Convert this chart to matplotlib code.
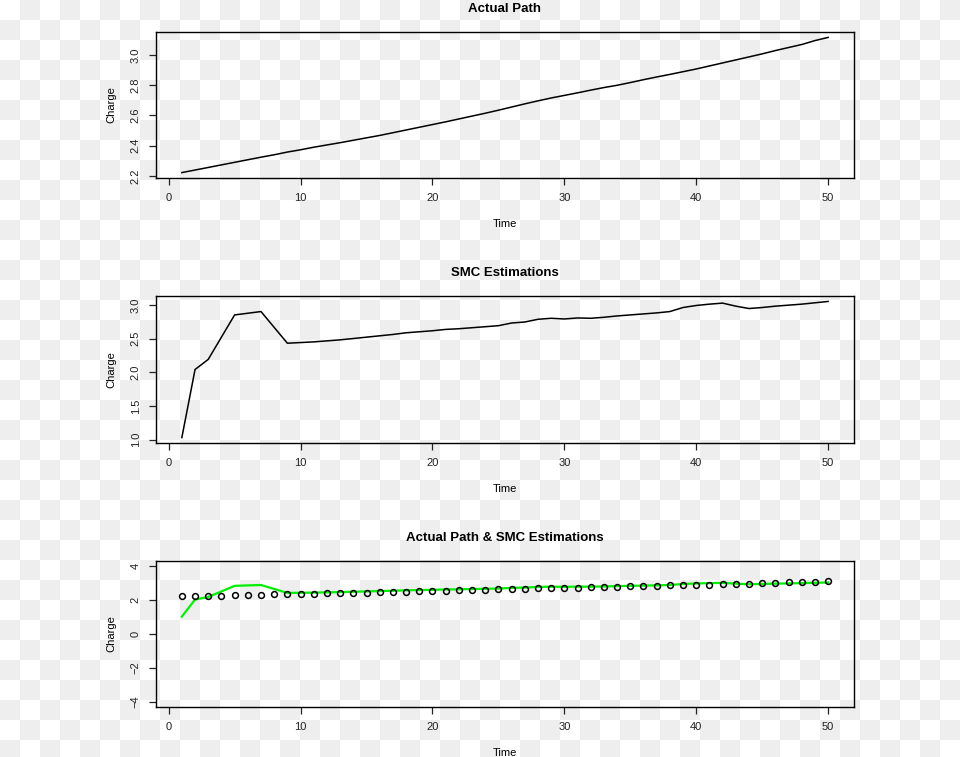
import numpy as np
import matplotlib
matplotlib.use('Agg')
import matplotlib.pyplot as plt

plt.rcParams['font.family'] = ['Liberation Sans', 'DejaVu Sans']

# data
time = list(range(1, 51))
actual = [2.222, 2.239, 2.256, 2.273, 2.290, 2.307, 2.324, 2.340, 2.358, 2.373,
          2.390, 2.405, 2.420, 2.436, 2.452, 2.468, 2.486, 2.504, 2.522, 2.540,
          2.558, 2.577, 2.596, 2.615, 2.635, 2.656, 2.677, 2.697, 2.716, 2.733,
          2.750, 2.768, 2.785, 2.800, 2.818, 2.837, 2.855, 2.872, 2.890, 2.908,
          2.928, 2.948, 2.968, 2.988, 3.008, 3.030, 3.050, 3.070, 3.096, 3.117]
smc = [1.03, 2.04, 2.19, 2.52, 2.85, 2.875, 2.90, 2.665, 2.43, 2.44,
       2.45, 2.465, 2.48, 2.50, 2.52, 2.54, 2.56, 2.585, 2.60, 2.615,
       2.635, 2.645, 2.66, 2.675, 2.69, 2.73, 2.745, 2.785, 2.80, 2.79,
       2.805, 2.80, 2.815, 2.835, 2.85, 2.865, 2.88, 2.90, 2.96, 2.99,
       3.01, 3.025, 2.98, 2.945, 2.96, 2.98, 2.995, 3.01, 3.03, 3.05]
titles = ['Actual Path', 'SMC Estimations', 'Actual Path & SMC Estimations']
xticks = [0, 10, 20, 30, 40, 50]
yticks1 = [2.2, 2.4, 2.6, 2.8, 3.0]
yticks2 = [1.0, 1.5, 2.0, 2.5, 3.0]
yticks3 = [-4, -2, 0, 2, 4]

W, H = 960, 757
fig = plt.figure(figsize=(W / 100, H / 100), dpi=100)

# transparent background shown as checkerboard
bg = fig.add_axes([0, 0, 1, 1], zorder=-10)
ii, jj = np.indices((H, W))
board = ((ii // 20) + (jj // 20)) % 2
bg.imshow(board, cmap=matplotlib.colors.ListedColormap(['#ffffff', '#eeeeee']),
          interpolation='nearest', aspect='auto')
bg.axis('off')

def px(l, t, r, b):
    return [l / W, 1 - b / H, (r - l) / W, (b - t) / H]

def r_range(lo, hi):
    d = (hi - lo) * 0.04
    return lo - d, hi + d

boxes = [(156, 32, 854, 178), (156, 296, 854, 443), (156, 561, 854, 707)]
axes = [fig.add_axes(px(*b)) for b in boxes]

axes[0].plot(time, actual, color='black', lw=1.1)
axes[0].set_ylim(*r_range(min(actual), max(actual)))
axes[0].set_yticks(yticks1)
axes[0].set_yticklabels(['%.1f' % v for v in yticks1])

axes[1].plot(time, smc, color='black', lw=1.1)
axes[1].set_ylim(*r_range(min(smc), max(smc)))
axes[1].set_yticks(yticks2)
axes[1].set_yticklabels(['%.1f' % v for v in yticks2])

axes[2].plot(time, smc, color='#00ee00', lw=1.6, zorder=2)
axes[2].plot(time, actual, 'o', mfc='none', mec='black', mew=1.1, ms=4.2, zorder=3)
axes[2].set_ylim(*r_range(-4, 4))
axes[2].set_yticks(yticks3)
axes[2].set_yticklabels([str(v).replace('-', '\u2212') for v in yticks3])

for ax, title, b in zip(axes, titles, boxes):
    ax.set_facecolor('none')
    ax.set_xlim(*r_range(1, 50))
    ax.set_xticks(xticks)
    for s in ax.spines.values():
        s.set_linewidth(1.0)
    ax.tick_params(length=5, width=0.9, labelsize=8, pad=6, colors='#222222')
    plt.setp(ax.get_yticklabels(), rotation=90, va='center')
    ax.set_xlabel('Time', fontsize=8, labelpad=11)
    ax.set_ylabel('Charge', fontsize=8, labelpad=10)
    fig.text((b[0] + b[2]) / 2 / W, 1 - (b[1] - 23) / H, title,
             ha='center', va='center', fontsize=9.5, fontweight='bold')

plt.savefig('out.png', dpi=100)
